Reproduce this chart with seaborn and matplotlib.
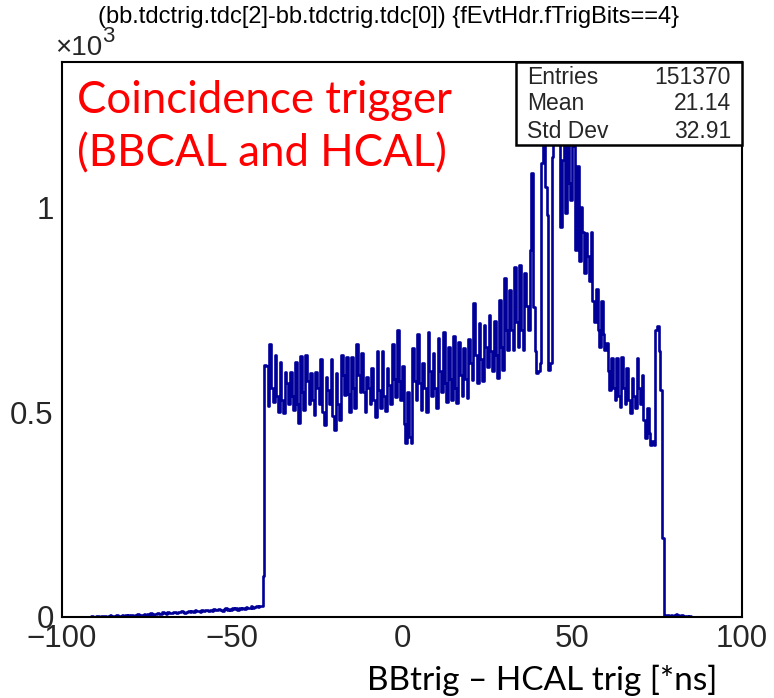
import numpy as np
import pandas as pd
import matplotlib
matplotlib.use("Agg")
import matplotlib.pyplot as plt
from matplotlib import font_manager as fm
from matplotlib.ticker import FixedLocator, MultipleLocator, NullFormatter
from matplotlib.patches import Rectangle
import seaborn as sns

# ---------------- data ----------------
x_range = (-100.0, 100.0)
bin_width = 0.5

# -100 .. -41 ns : small tail
tail_left = [0, 0, 0, 0, 0, 0, 0, 0, 0, 0, 0, 0, 0, 0, 1, 0,
             1, 2, 1, 0, 2, 3, 1, 2, 2, 3, 1, 2, 4, 2, 3, 2, 4, 3, 2, 5, 3, 4, 3, 5,
             4, 6, 3, 5, 7, 4, 6, 5, 8, 6, 7, 5, 9, 6, 8, 7, 10, 8, 7, 11,
             9, 8, 12, 10, 9, 11, 13, 10, 12, 11, 14, 12, 10, 13, 15, 12, 14, 13, 16, 14,
             15, 13, 17, 14, 16, 18, 15, 17, 14, 19,
             16, 18, 20, 17, 15, 19, 21, 18, 20, 17,
             22, 19, 21, 18, 23, 20, 22, 19, 24, 21,
             23, 26, 22, 25, 27, 24, 28, 26]
rise = [100]
# -40.5 .. 76.5 ns : main body (TDC pattern of high / low bins)
plateau = [615, 612, 515, 666, 560, 524, 639, 540, 500, 622, 530, 497,
           598, 570, 520, 598, 540, 505, 622, 520, 473, 637, 550, 505,
           639, 575, 520, 595, 530, 493, 598, 560, 520, 629, 500, 468,
           585, 555, 520, 629, 490, 456, 595, 520, 480, 639, 590, 541,
           634, 545, 500, 634, 560, 510, 666, 590, 549, 644, 550, 500,
           585, 560, 520, 607, 530, 488, 649, 555, 510, 649, 540, 502,
           607, 565, 520, 666, 580, 537, 700, 575, 530, 612, 470, 424,
           549, 440, 424, 656, 575, 530, 690, 570, 505, 620, 560, 500,
           695, 600, 540, 644, 560, 510, 680, 600, 550, 695, 570, 524,
           660, 580, 530, 685, 560, 522, 671, 590, 540, 656, 580, 534,
           678, 620, 578, 766, 640, 571, 717, 630, 575, 712, 660, 610,
           737, 650, 600, 722, 640, 583, 773, 660, 602, 827, 700, 651,
           798, 700, 651, 854, 720, 660, 858, 700, 651, 840, 760, 700,
           895, 1083, 756, 650, 595, 600, 620, 1107, 1180, 1049, 980, 602,
           620, 1122, 1230, 1290, 1200, 1250, 951, 1115, 1260, 985, 1180, 1058,
           1017, 1230, 1150, 895, 1100, 870, 1000, 939, 839, 937, 880, 820,
           939, 770, 720, 800, 700, 660, 770, 690, 651, 668, 600, 553,
           631, 560, 529, 631, 540, 512, 634, 560, 520, 607, 530, 497,
           583, 540, 510, 631, 560, 520, 590, 480, 437, 510, 450, 420,
           430, 420, 700, 710, 650, 553]
fall = [193]
# 77 .. 100 ns
tail_right = [3, 5, 4, 2, 6, 3, 4, 8, 5, 3,
              4, 2, 3, 2, 1, 2, 1, 0, 1, 0,
              0, 1, 0, 0, 0, 0, 0, 0, 0, 0,
              0, 0, 0, 0, 0, 0, 0, 0, 0, 0,
              0, 0, 0, 0, 0, 0]

counts = tail_left + rise + plateau + fall + tail_right

x_ticks = [-100, -50, 0, 50, 100]
x_tick_labels = ["\u2212100", "\u221250", "0", "50", "100"]
y_ticks = [0, 500, 1000]
y_tick_labels = ["0", "0.5", "1"]
title_text = "(bb.tdctrig.tdc[2]-bb.tdctrig.tdc[0]) {fEvtHdr.fTrigBits==4}"
stat_labels = ["Entries", "Mean", "Std Dev"]
stat_values = ["151370", "21.14", "32.91"]
annotation_lines = ["Coincidence trigger", "(BBCAL and HCAL)"]
x_label = "BBtrig \u2013 HCAL trig [*ns]"

# ---------------- style ----------------
def _has(name):
    try:
        fm.findfont(fm.FontProperties(family=name), fallback_to_default=False)
        return True
    except Exception:
        return False

ROOT_FONT = ["Liberation Sans", "DejaVu Sans"]
NARROW_FONT = (["Liberation Sans Narrow", "DejaVu Sans"]
               if _has("Liberation Sans Narrow") else ROOT_FONT)
tick_size = 25 if NARROW_FONT is not ROOT_FONT else 22.5
SLIDE_FONT = ["Lato", "DejaVu Sans"]
LINE = "#000099"

sns.set_style("white")
plt.rcParams["font.family"] = ROOT_FONT

W, H = 774, 698
fig = plt.figure(figsize=(W / 100, H / 100), dpi=100)
fig.patch.set_facecolor("white")

ax_l, ax_r, ax_t, ax_b = 62, 742, 62, 617
ax = fig.add_axes([ax_l / W, 1 - ax_b / H, (ax_r - ax_l) / W, (ax_b - ax_t) / H])

centers = x_range[0] + bin_width * (np.arange(len(counts)) + 0.5)
df = pd.DataFrame({"t": centers, "n": counts})
sns.histplot(data=df, x="t", weights="n", binwidth=bin_width, binrange=x_range,
             element="step", fill=False, color=LINE, linewidth=1.9, ax=ax)

ax.set_xlim(*x_range)
ax.set_ylim(0, max(counts) * 1.05)
ax.set_xlabel("")
ax.set_ylabel("")

for s in ax.spines.values():
    s.set_visible(True)
    s.set_color("black")
    s.set_linewidth(1.5)

ax.xaxis.set_major_locator(FixedLocator(x_ticks))
ax.set_xticklabels(x_tick_labels, family=NARROW_FONT)
ax.xaxis.set_minor_locator(MultipleLocator(10))
ax.yaxis.set_major_locator(FixedLocator(y_ticks))
ax.set_yticklabels(y_tick_labels, family=NARROW_FONT)
ax.yaxis.set_minor_locator(MultipleLocator(100))
ax.yaxis.set_minor_formatter(NullFormatter())
ax.tick_params(axis="both", which="both", direction="in", top=False, right=False,
               color="black", width=1.4)
ax.tick_params(axis="both", which="major", length=9.5, labelsize=tick_size)
ax.tick_params(axis="both", which="minor", length=4.5)
ax.tick_params(axis="x", which="major", pad=5)
ax.tick_params(axis="y", which="major", pad=6)

# title
fig.text(388 / W, 1 - 17 / H, title_text, ha="center", va="center",
         fontsize=17, family=ROOT_FONT, color="black")
# exponent
fig.text(55 / W, 1 - 48 / H, "\u00d710", ha="left", va="center",
         fontsize=20, family=ROOT_FONT)
fig.text(102 / W, 1 - 36 / H, "3", ha="left", va="center",
         fontsize=16, family=ROOT_FONT)

# stat box
bx0, bx1, by0, by1 = 516, 742, 62, 145
fig.patches.append(Rectangle((bx0 / W, 1 - by1 / H), (bx1 - bx0) / W, (by1 - by0) / H,
                             transform=fig.transFigure, facecolor="white",
                             edgecolor="black", linewidth=1.8, zorder=5))
for lab, val, yc in zip(stat_labels, stat_values, [78, 104, 131]):
    fig.text(527 / W, 1 - yc / H, lab, ha="left", va="center", fontsize=16.5,
             family=ROOT_FONT, zorder=6)
    fig.text(731 / W, 1 - yc / H, val, ha="right", va="center", fontsize=16.5,
             family=ROOT_FONT, zorder=6)

# slide overlays (two lines, baselines as in the slide)
for line, base in zip(annotation_lines, [113, 166]):
    fig.text(77 / W, 1 - base / H, line, ha="left", va="baseline", fontsize=31.5,
             family=SLIDE_FONT, color="#ff0000")
fig.text(717 / W, 1 - 680 / H, x_label, ha="right", va="center", fontsize=24,
         family=SLIDE_FONT, color="black")

fig.savefig("out.png", dpi=100, facecolor="white")
